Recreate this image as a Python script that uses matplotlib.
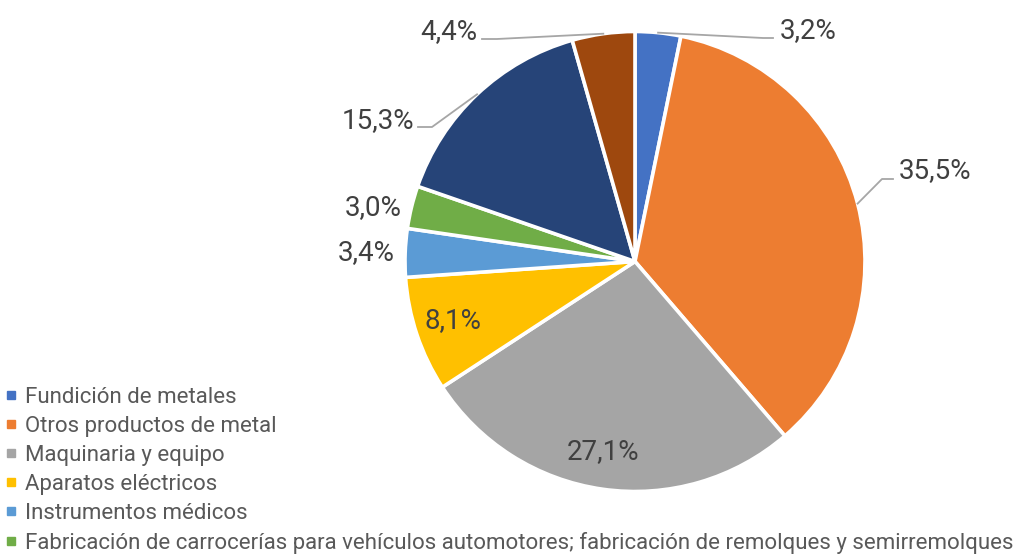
import matplotlib
matplotlib.use("Agg")
import matplotlib.pyplot as plt
from matplotlib.lines import Line2D
import numpy as np

categories = [
    "Fundición de metales",
    "Otros productos de metal",
    "Maquinaria y equipo",
    "Aparatos eléctricos",
    "Instrumentos médicos",
    "Fabricación de carrocerías para vehículos automotores; fabricación de remolques y semirremolques",
    "Vehículos automotores",
    "Otro equipo de transporte",
]
values = [3.2, 35.5, 27.1, 8.1, 3.4, 3.0, 15.3, 4.4]
value_labels = ["3,2%", "35,5%", "27,1%", "8,1%", "3,4%", "3,0%", "15,3%", "4,4%"]
colors = ["#4472C4", "#ED7D31", "#A5A5A5", "#FFC000", "#5B9BD5", "#70AD47", "#264478", "#9E480E"]
n_visible_legend = 6  # the rest of the legend falls below the chart area in the reference

W, H = 1030, 554
fig = plt.figure(figsize=(W / 100, H / 100), dpi=100)
plt.rcParams['font.family'] = ['Roboto', 'DejaVu Sans']

cx, cy, R = 635, 261.5, 230
ax = fig.add_axes([(cx - R) / W, (H - cy - R) / H, 2 * R / W, 2 * R / H])

wedges, _ = ax.pie(values, colors=colors, startangle=90, counterclock=False, radius=1.0,
                   wedgeprops=dict(edgecolor='white', linewidth=2.6))
ax.set_xlim(-1, 1)
ax.set_ylim(-1, 1)
ax.set_aspect('equal')
ax.axis('off')


def d(px, py):
    return ((px - cx) / R, (cy - py) / R)


# label layout in pixels: text position, alignment, leader elbow, leader end
layout = [
    ((780, 31), 'left', (763, 38), (773, 38)),
    ((899, 171), 'left', (882, 179), (893, 179)),
    ((603, 452), 'center', None, None),
    ((453, 321), 'center', None, None),
    ((395, 253), 'right', None, None),
    ((402, 208), 'right', None, None),
    ((414, 121), 'right', (432, 127), (418, 127)),
    ((477, 32), 'right', (497, 39), (482, 39)),
]

for i, (w, lab) in enumerate(zip(wedges, value_labels)):
    (tx, ty), ha, elbow, end = layout[i]
    ax.text(*d(tx, ty), lab, ha=ha, va='center', fontsize=20, color='#404040')
    if elbow is not None:
        ang = np.deg2rad((w.theta1 + w.theta2) / 2)
        sx, sy = np.cos(ang), np.sin(ang)
        ex, ey = d(*elbow)
        fx, fy = d(*end)
        ax.plot([sx, ex, fx], [sy, ey, fy], color='#A6A6A6', lw=1.3, clip_on=False)

handles = [Line2D([], [], marker='s', linestyle='none', markersize=6,
                  markerfacecolor=c, markeredgecolor=c) for c in colors[:n_visible_legend]]
leg = fig.legend(handles, categories[:n_visible_legend], loc='upper left',
                 bbox_to_anchor=(4 / W, 1 - 387 / H),
                 frameon=False, fontsize=16, labelcolor='#595959', handlelength=0.65,
                 handletextpad=0.28, borderpad=0, borderaxespad=0, labelspacing=0.36)

fig.savefig("out.png", dpi=100)
